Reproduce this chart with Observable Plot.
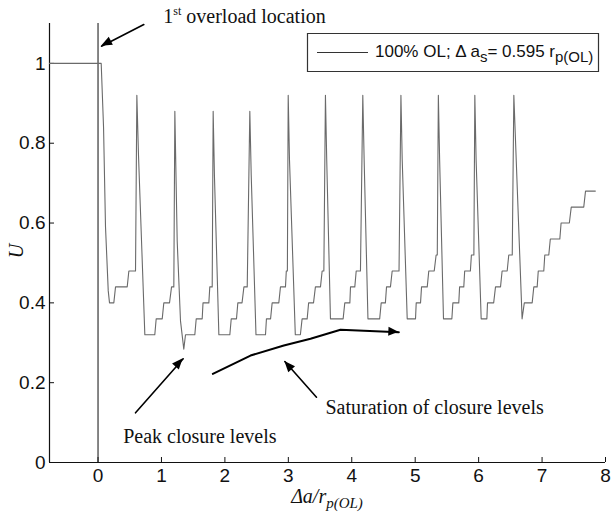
<!DOCTYPE html>
<html><head><meta charset="utf-8">
<script src="https://cdn.jsdelivr.net/npm/d3@7"></script>
<script src="https://cdn.jsdelivr.net/npm/@observablehq/plot@0.6"></script>
<style>
html,body{margin:0;padding:0;background:#fff;}
#chart{width:613px;height:515px;}
</style></head><body><div id="chart"></div>
<script>
// ---- data: U vs Δa/r_p(OL) ----
const uX = [
-0.765, 0.05, 0.087, 0.118, 0.161, 0.181, 0.249, 0.276, 0.46, 0.486, 0.591, 0.612,
0.638, 0.738, 0.895, 0.917, 1.012, 1.037, 1.127, 1.159, 1.195, 1.211,
1.229, 1.248, 1.30, 1.352, 1.379, 1.526, 1.548, 1.642, 1.655, 1.747, 1.762, 1.80, 1.815,
1.835, 1.905, 2.078, 2.10, 2.183, 2.204, 2.27, 2.30, 2.352, 2.393,
2.415, 2.49, 2.64, 2.655, 2.72, 2.745, 2.85, 2.876, 2.955, 2.968, 2.985, 2.998,
3.018, 3.11, 3.19, 3.217, 3.297, 3.32, 3.397, 3.427, 3.507, 3.533, 3.56, 3.585,
3.605, 3.664, 3.864, 3.89, 3.97, 3.98, 4.048, 4.07, 4.137, 4.174,
4.195, 4.255, 4.44, 4.464, 4.53, 4.548, 4.61, 4.637, 4.745, 4.775,
4.795, 4.874, 5.005, 5.016, 5.084, 5.10, 5.19, 5.214, 5.30, 5.33, 5.348, 5.365,
5.385, 5.446, 5.578, 5.594, 5.687, 5.70, 5.766, 5.78, 5.87, 5.886, 5.925, 5.94,
5.96, 6.04, 6.13, 6.14, 6.237, 6.266, 6.345, 6.37, 6.45, 6.475, 6.53, 6.555,
6.685, 6.72, 6.844, 6.87, 6.923, 6.94, 7.027, 7.043, 7.106, 7.13, 7.28, 7.30, 7.43, 7.46, 7.657, 7.685, 7.84
];
const uY = [
1, 1, 0.84, 0.59, 0.43, 0.40, 0.40, 0.44, 0.44, 0.48, 0.48, 0.92,
0.77, 0.32, 0.32, 0.36, 0.36, 0.40, 0.40, 0.44, 0.44, 0.88,
0.72, 0.555, 0.355, 0.284, 0.32, 0.32, 0.36, 0.36, 0.40, 0.40, 0.44, 0.44, 0.88,
0.72, 0.32, 0.32, 0.36, 0.36, 0.40, 0.40, 0.44, 0.44, 0.88,
0.72, 0.32, 0.32, 0.36, 0.36, 0.40, 0.40, 0.44, 0.44, 0.48, 0.48, 0.92,
0.76, 0.32, 0.32, 0.36, 0.36, 0.40, 0.40, 0.44, 0.44, 0.48, 0.48, 0.92,
0.76, 0.36, 0.36, 0.40, 0.40, 0.44, 0.44, 0.48, 0.48, 0.92,
0.76, 0.36, 0.36, 0.40, 0.40, 0.44, 0.44, 0.48, 0.48, 0.92,
0.76, 0.36, 0.36, 0.40, 0.40, 0.44, 0.44, 0.48, 0.48, 0.52, 0.52, 0.92,
0.76, 0.36, 0.36, 0.40, 0.40, 0.44, 0.44, 0.48, 0.48, 0.52, 0.52, 0.92,
0.76, 0.36, 0.36, 0.40, 0.40, 0.44, 0.44, 0.48, 0.48, 0.52, 0.52, 0.92,
0.36, 0.40, 0.40, 0.44, 0.44, 0.48, 0.48, 0.52, 0.52, 0.56, 0.56, 0.60, 0.60, 0.64, 0.64, 0.68, 0.68
];
const xTicks = [0, 1, 2, 3, 4, 5, 6, 7, 8];
const xTickLabels = ["0", "1", "2", "3", "4", "5", "6", "7", "8"];
const yTicks = [0, 0.2, 0.4, 0.6, 0.8, 1];
const yTickLabels = ["0", "0.2", "0.4", "0.6", "0.8", "1"];
const overloadAt = [0];

// ---- annotations (data coordinates) ----
const arrowOverloadX = [0.722, 0.055];
const arrowOverloadY = [1.0975, 1.043];
const arrowPeakX = [0.591, 1.343];
const arrowPeakY = [0.1245, 0.26];
const arrowSatX = [3.444, 2.945];
const arrowSatY = [0.1636, 0.253];
const curveSatX = [1.81, 2.404, 2.929, 3.35, 3.822, 4.742];
const curveSatY = [0.222, 0.268, 0.293, 0.31, 0.3325, 0.3265];
const noteTexts = ["Peak closure levels", "Saturation of closure levels"];
const noteX = [0.397, 3.586];
const noteY = [0.048, 0.122];
const overloadNoteX = 1.037, overloadNoteY = 1.099;

// ---- layout ----
const W = 613, H = 515, mL = 49, mR = 8, mT = 23, mB = 53;
const plotW = W - mL - mR, plotH = H - mT - mB;
const xDomain = [-0.765, 8], yDomain = [0, 1.1];
const serif = "'Liberation Serif','Times New Roman',Times,serif";
const sans = "'Liberation Sans',Arial,Helvetica,sans-serif";

const series = uX.map((x, i) => ({x, y: uY[i]}));
const toPts = (xs, ys) => xs.map((x, i) => ({x, y: ys[i]}));
const arrows = [
  toPts(arrowOverloadX, arrowOverloadY),
  toPts(arrowPeakX, arrowPeakY),
  toPts(arrowSatX, arrowSatY)
];
const curve = toPts(curveSatX, curveSatY);
const notes = noteTexts.map((t, i) => ({t, x: noteX[i], y: noteY[i]}));

const plot = Plot.plot({
  width: W, height: H,
  marginLeft: mL, marginRight: mR, marginTop: mT, marginBottom: mB,
  style: {fontFamily: sans, fontSize: "19px", background: "#fff", color: "#111", overflow: "visible"},
  x: {domain: xDomain, ticks: xTicks, tickFormat: d => xTickLabels[xTicks.indexOf(d)], tickSize: 0, tickPadding: 6, label: null},
  y: {domain: yDomain, ticks: yTicks, tickFormat: d => yTickLabels[yTicks.indexOf(d)], tickSize: 0, tickPadding: 4, label: null},
  marks: [
    Plot.ruleY([yDomain[0]], {stroke: "#111", strokeWidth: 1.2}),
    Plot.ruleX([xDomain[0]], {stroke: "#111", strokeWidth: 1.2}),
    Plot.tickX(xTicks, {x: d => d, insetTop: plotH - 5, stroke: "#111"}),
    Plot.tickY(yTicks, {y: d => d, insetRight: plotW - 5, stroke: "#111"}),
    Plot.ruleX(overloadAt, {stroke: "#222", strokeWidth: 1.1}),
    Plot.line(series, {x: "x", y: "y", stroke: "#6a6a6a", strokeWidth: 1.1}),
    ...arrows.map(a => Plot.line(a, {x: "x", y: "y", stroke: "#000", strokeWidth: 1.6})),
    Plot.line(curve, {x: "x", y: "y", stroke: "#000", strokeWidth: 2}),
    Plot.text(notes, {x: "x", y: "y", text: "t", textAnchor: "start", lineAnchor: "bottom",
      fontFamily: serif, fontSize: 20, fill: "#111"})
  ]
});

const sx = plot.scale("x"), sy = plot.scale("y");
const svg = d3.select(plot);

// filled arrowheads
function head(pts, len = 11, hw = 4.5) {
  const a = pts[pts.length - 2], b = pts[pts.length - 1];
  const x0 = sx.apply(a.x), y0 = sy.apply(a.y), x1 = sx.apply(b.x), y1 = sy.apply(b.y);
  const L = Math.hypot(x1 - x0, y1 - y0), ux = (x1 - x0) / L, uy = (y1 - y0) / L;
  const bx = x1 - ux * len, by = y1 - uy * len;
  svg.append("polygon")
    .attr("points", [[x1, y1], [bx - uy * hw, by + ux * hw], [bx + uy * hw, by - ux * hw]].map(p => p.join(",")).join(" "))
    .attr("fill", "#000").attr("stroke", "none");
}
arrows.forEach(a => head(a));
head(curve, 10, 4.5);

// "1st overload location"
const t1 = svg.append("text").attr("x", sx.apply(overloadNoteX)).attr("y", sy.apply(overloadNoteY))
  .attr("text-anchor", "start").attr("font-family", serif).attr("font-size", 20).attr("fill", "#111");
t1.append("tspan").text("1");
t1.append("tspan").attr("font-size", 12).attr("dy", -8).text("st");
t1.append("tspan").attr("dy", 8).text(" overload location");

// axis labels
const xl = svg.append("text").attr("x", mL + plotW / 2).attr("y", 503).attr("text-anchor", "middle")
  .attr("font-family", serif).attr("font-style", "italic").attr("font-size", 20).attr("fill", "#111");
xl.append("tspan").text("Δa/r");
xl.append("tspan").attr("font-size", 15).attr("dy", 5).text("p(OL)");
svg.append("text").attr("transform", "translate(23,251) rotate(-90)").attr("text-anchor", "middle")
  .attr("font-family", serif).attr("font-style", "italic").attr("font-size", 20).attr("fill", "#111").text("U");

// legend
const lg = svg.append("g");
lg.append("path").attr("d", "M307.5,33.5H598.5V71.5H307.5Z")
  .attr("fill", "#fff").attr("stroke", "#333").attr("stroke-width", 1.2);
lg.append("path").attr("d", "M317,52.5H368").attr("fill", "none").attr("stroke", "#333").attr("stroke-width", 1.1);
const lt = lg.append("text").attr("x", 375).attr("y", 57).attr("text-anchor", "start")
  .attr("font-family", sans).attr("font-size", 17).attr("fill", "#111");
lt.append("tspan").text("100% OL; Δ a");
lt.append("tspan").attr("font-size", 15).attr("dy", 5).text("s");
lt.append("tspan").attr("dy", -5).text("= 0.595 r");
lt.append("tspan").attr("font-size", 15).attr("dy", 5).text("p(OL)");

document.getElementById("chart").append(plot);
</script></body></html>
